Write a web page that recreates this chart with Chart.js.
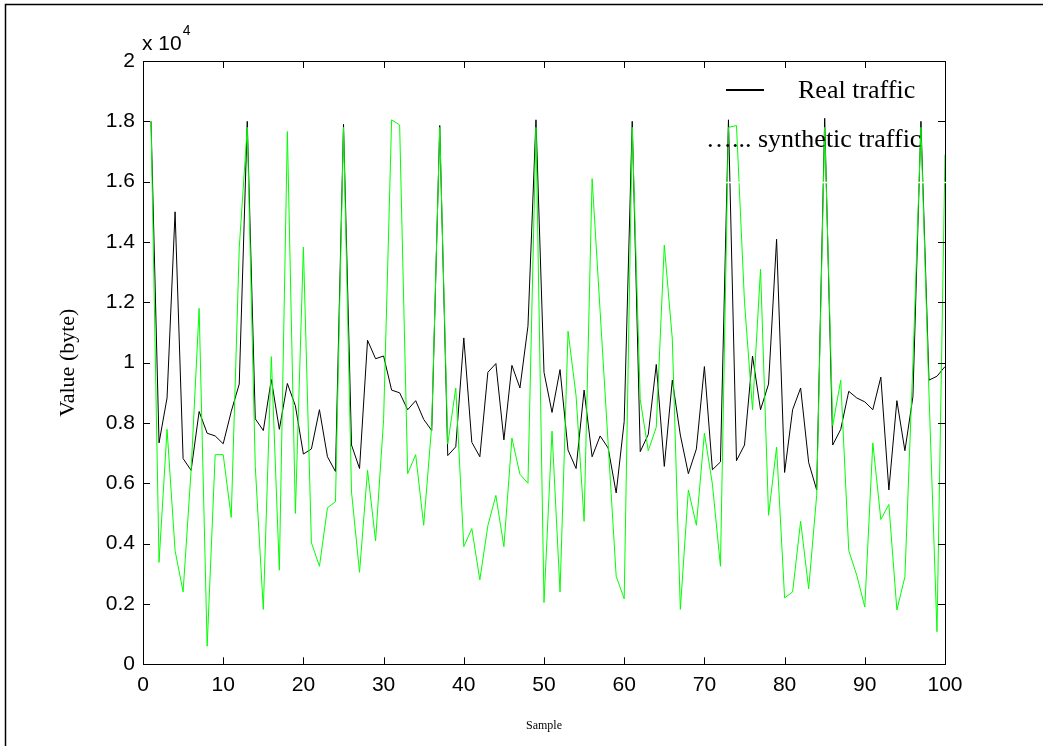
<!DOCTYPE html>
<html>
<head>
<meta charset="utf-8">
<script src="https://cdn.jsdelivr.net/npm/chart.js@4.4.0/dist/chart.umd.min.js"></script>
<style>
html,body{margin:0;padding:0;background:#fff;}
#wrap{width:1043px;height:746px;position:relative;}
</style>
</head>
<body>
<div id="wrap"><canvas id="c" width="1043" height="746"></canvas></div>
<script>
// ---- data (values in bytes) ----
const samples = [1,2,3,4,5,6,7,8,9,10,11,12,13,14,15,16,17,18,19,20,
  21,22,23,24,25,26,27,28,29,30,31,32,33,34,35,36,37,38,39,40,
  41,42,43,44,45,46,47,48,49,50,51,52,53,54,55,56,57,58,59,60,
  61,62,63,64,65,66,67,68,69,70,71,72,73,74,75,76,77,78,79,80,
  81,82,83,84,85,86,87,88,89,90,91,92,93,94,95,96,97,98,99,100];

const realTraffic = [
  18000,7340,8830,15000,6820,6430,8380,7660,7570,7310,
  8380,9290,18000,8140,7750,9440,7790,9310,8570,6970,
  7140,8440,6880,6390,17900,7270,6490,10740,10130,10220,
  9090,9000,8440,8740,8120,7750,17860,6920,7210,10820,
  7360,6880,9680,9970,7440,9910,9160,11210,18050,9680,
  8350,9770,7100,6490,9090,6880,7570,7170,5680,8050,
  18000,7050,7620,9940,6560,9420,7600,6320,7140,9870,
  6450,6710,18050,6750,7270,10220,8440,9290,14090,6360,
  8440,9160,6690,5780,18100,7270,7790,9050,8830,8700,
  8440,9520,5780,8740,7080,8870,18000,9420,9550,9870];

const syntheticTraffic = [
  18000,3380,7790,3770,2400,6430,11800,600,6950,6950,
  4870,13800,17800,6560,1820,10200,3120,17660,5000,13830,
  4030,3250,5190,5390,17800,5710,3050,6430,4090,8120,
  18050,17880,6320,6950,4610,7920,17800,7300,9160,3900,
  4500,2800,4600,5600,3900,7500,6300,6000,17800,2050,
  7730,2400,11040,8900,4740,16100,11700,7300,2920,2170,
  17800,8770,7080,7860,13900,10780,1820,5780,4610,7660,
  5970,3250,17800,17860,12000,8440,13100,4940,7200,2200,
  2400,4740,2500,5600,17800,7920,9420,3770,2950,1900,
  7340,4800,5300,1800,2900,10000,17800,9000,1080,16900];

const seriesNames = ['Real traffic', 'synthetic traffic'];
const xTickValues = [0,10,20,30,40,50,60,70,80,90,100];
const xTickLabels = ['0','10','20','30','40','50','60','70','80','90','100'];
const yTickValues = [0,2000,4000,6000,8000,10000,12000,14000,16000,18000,20000];
const yTickLabels = ['0','0.2','0.4','0.6','0.8','1','1.2','1.4','1.6','1.8','2'];
const exponentText = ['x 10', '4'];
const axisTitles = { x: 'Sample', y: 'Value (byte)' };

const SANS = "'Liberation Sans', Arial, Helvetica, sans-serif";
const SERIF = "'Liberation Serif', 'Times New Roman', Times, serif";

const decor = {
  id: 'decor',
  afterDatasetsDraw(chart) {
    const { ctx, chartArea: a, scales: { x, y } } = chart;
    ctx.save();
    ctx.strokeStyle = '#000';
    ctx.lineWidth = 1;
    ctx.strokeRect(Math.round(a.left) + 0.5, Math.round(a.top) + 0.5,
                   Math.round(a.right) - Math.round(a.left), Math.round(a.bottom) - Math.round(a.top));
    ctx.beginPath();
    const T = 7;
    xTickValues.forEach(v => {
      const px = Math.round(x.getPixelForValue(v)) + 0.5;
      ctx.moveTo(px, a.bottom); ctx.lineTo(px, a.bottom - T);
      ctx.moveTo(px, a.top); ctx.lineTo(px, a.top + T);
    });
    yTickValues.forEach(v => {
      const py = Math.round(y.getPixelForValue(v)) + 0.5;
      ctx.moveTo(a.left, py); ctx.lineTo(a.left + T, py);
      ctx.moveTo(a.right, py); ctx.lineTo(a.right - T, py);
    });
    ctx.stroke();
    ctx.strokeStyle = '#fff';
    ctx.lineWidth = 1.5;
    ctx.beginPath();
    ctx.moveTo(700, 182.5); ctx.lineTo(948, 182.5);
    ctx.stroke();
    ctx.restore();
  },
  afterDraw(chart) {
    const { ctx } = chart;
    ctx.save();
    ctx.strokeStyle = '#000';
    ctx.lineWidth = 1.5;
    ctx.beginPath();
    ctx.moveTo(5.5, 746); ctx.lineTo(5.5, 4.5); ctx.lineTo(1043, 4.5);
    ctx.stroke();
    ctx.fillStyle = '#000';
    ctx.textBaseline = 'alphabetic';
    ctx.textAlign = 'left';
    ctx.font = "21px " + SANS;
    ctx.fillText(exponentText[0], 142, 50);
    const w = ctx.measureText(exponentText[0]).width;
    ctx.font = "14px " + SANS;
    ctx.fillText(exponentText[1], 142 + w + 1, 35);
    ctx.strokeStyle = '#000';
    ctx.lineWidth = 2;
    ctx.beginPath();
    ctx.moveTo(726, 90); ctx.lineTo(764, 90);
    ctx.stroke();
    ctx.font = "26px " + SERIF;
    ctx.fillText(seriesNames[0], 798, 98);
    ctx.fillText('\u2026... ' + seriesNames[1], 706, 147);
    ctx.restore();
  }
};

const chart = new Chart(document.getElementById('c'), {
  type: 'line',
  data: {
    datasets: [
      {
        label: seriesNames[0],
        data: samples.map((s, i) => ({ x: s, y: realTraffic[i] })),
        borderColor: '#000000',
        borderWidth: 1,
        pointRadius: 0,
        tension: 0,
        fill: false,
        order: 1
      },
      {
        label: seriesNames[1],
        data: samples.map((s, i) => ({ x: s, y: syntheticTraffic[i] })),
        borderColor: '#00ff00',
        borderWidth: 1,
        pointRadius: 0,
        tension: 0,
        fill: false,
        order: 0
      }
    ]
  },
  options: {
    responsive: false,
    animation: false,
    events: [],
    layout: { padding: { left: 0, top: 61, right: 98, bottom: 0 } },
    plugins: { legend: { display: false }, tooltip: { enabled: false } },
    scales: {
      x: {
        type: 'linear',
        min: 0, max: 100,
        afterBuildTicks: s => { s.ticks = xTickValues.map(v => ({ value: v })); },
        afterFit: s => { s.height = 81.7; },
        grid: { display: false, drawTicks: false },
        border: { display: false },
        ticks: {
          padding: 8, color: '#000', autoSkip: false, maxRotation: 0,
          font: { family: SANS, size: 21 },
          callback: (v, i) => xTickLabels[i]
        },
        title: {
          display: true, text: axisTitles.x, color: '#000',
          font: { family: SERIF, size: 12 },
          padding: { top: 0, bottom: 13 }
        }
      },
      y: {
        type: 'linear',
        min: 0, max: 20000,
        afterBuildTicks: s => { s.ticks = yTickValues.map(v => ({ value: v })); },
        afterFit: s => { s.width = 143; },
        grid: { display: false, drawTicks: false },
        border: { display: false },
        ticks: {
          padding: 8, color: '#000', autoSkip: false,
          font: { family: SANS, size: 21 },
          callback: (v, i) => yTickLabels[i]
        },
        title: {
          display: true, text: axisTitles.y, color: '#000',
          font: { family: SERIF, size: 22 },
          padding: { top: 55, bottom: 0 }
        }
      }
    }
  },
  plugins: [decor]
});
</script>
</body>
</html>
